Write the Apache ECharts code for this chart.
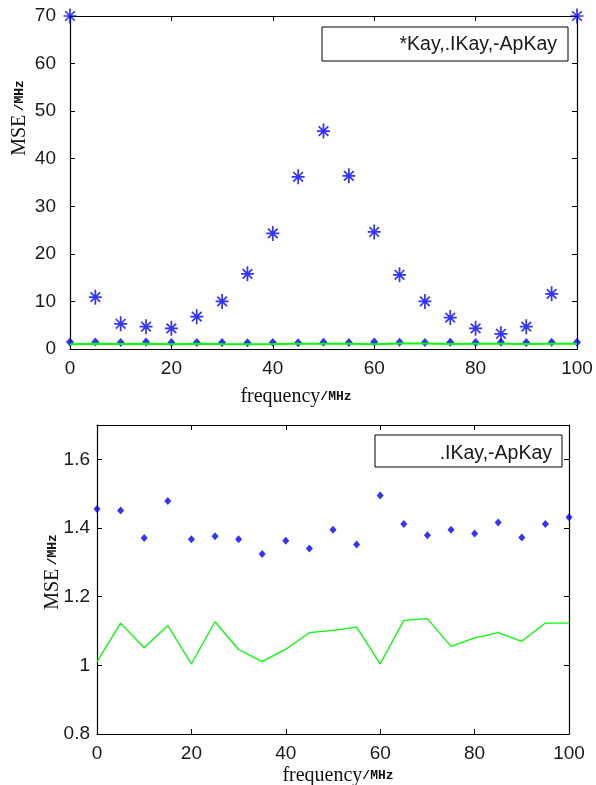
<!DOCTYPE html>
<html><head><meta charset="utf-8">
<script src="https://cdn.jsdelivr.net/npm/echarts@6/dist/echarts.min.js"></script>
<style>html,body{margin:0;padding:0;background:#fff}#c{width:596px;height:785px}</style>
</head><body><div id="c"></div>
<script>
// ---- data ----
const freq = [0, 5, 10, 15, 20, 25, 30, 35, 40, 45, 50, 55, 60, 65, 70, 75, 80, 85, 90, 95, 100];
const kayMSE = [70, 10.9, 5.3, 4.7, 4.35, 6.8, 10, 15.8, 24.3, 36.2, 45.8, 36.4, 24.6, 15.6, 10, 6.6, 4.35, 3.2, 4.7, 11.6, 70];
const ikayMSE = [1.455, 1.451, 1.371, 1.479, 1.367, 1.376, 1.367, 1.324, 1.363, 1.340, 1.395, 1.352, 1.495, 1.412, 1.379, 1.395, 1.384, 1.416, 1.372, 1.412, 1.431];
const apkayMSE = [1.010, 1.123, 1.051, 1.116, 1.004, 1.127, 1.046, 1.011, 1.047, 1.095, 1.102, 1.111, 1.004, 1.131, 1.136, 1.055, 1.080, 1.095, 1.070, 1.123, 1.123];
const legendTopText = '*Kay,.IKay,-ApKay';
const legendBottomText = '.IKay,-ApKay';
const yTitleMain = 'MSE', yTitleUnit = '/MHz';
const xTitleMain = 'frequency', xTitleUnit = '/MHz';

function pairs(v) { return freq.map((f, i) => [f, v[i]]); }

const STAR = 'path://M-0.8 -7L0.8 -7L0.8 7L-0.8 7Z M-6 -0.8L6 -0.8L6 0.8L-6 0.8Z ' +
  'M-5.0 -3.9L-3.9 -5.0L5.0 3.9L3.9 5.0Z M-3.9 5.0L-5.0 3.9L3.9 -5.0L5.0 -3.9Z M-1.7 -1.7L1.7 -1.7L1.7 1.7L-1.7 1.7Z';

const labelStyle = { fontFamily: 'Liberation Sans', fontSize: 19, color: '#1a1a1a' };
function xAx(g, pos, showLabel) {
  return {
    type: 'value', gridIndex: g, position: pos, min: 0, max: 100, interval: 20,
    axisLine: { show: true, onZero: false, lineStyle: { color: '#000', width: 1.2 } },
    axisTick: { show: true, inside: true, length: 5, lineStyle: { color: '#000', width: 1 } },
    axisLabel: Object.assign({ show: showLabel, margin: 10 }, labelStyle),
    splitLine: { show: false }
  };
}
function yAx(g, pos, showLabel, min, max, interval, margin, showMax) {
  return {
    type: 'value', gridIndex: g, position: pos, min: min, max: max, interval: interval,
    axisLine: { show: true, onZero: false, lineStyle: { color: '#000', width: 1.2 } },
    axisTick: { show: true, inside: true, length: 5, lineStyle: { color: '#000', width: 1 } },
    axisLabel: Object.assign({ show: showLabel, margin: margin, showMaxLabel: showMax }, labelStyle),
    splitLine: { show: false }
  };
}

const titleRich = {
  a: { fontFamily: 'Liberation Serif', fontSize: 20, fill: '#111', color: '#111' },
  b: { fontFamily: 'Liberation Mono', fontSize: 13, fontWeight: 'bold', fill: '#111', color: '#111' }
};

const chart = echarts.init(document.getElementById('c'), null, { renderer: 'canvas' });
chart.setOption({
  animation: false,
  backgroundColor: '#fff',
  grid: [
    { left: 70, top: 16, width: 507, height: 333 },
    { left: 97, top: 425, width: 472, height: 309 }
  ],
  xAxis: [xAx(0, 'bottom', true), xAx(0, 'top', false), xAx(1, 'bottom', true), xAx(1, 'top', false)],
  yAxis: [
    yAx(0, 'left', true, 0, 70, 10, 14, true), yAx(0, 'right', false, 0, 70, 10, 14, true),
    yAx(1, 'left', true, 0.8, 1.7, 0.2, 7, false), yAx(1, 'right', false, 0.8, 1.7, 0.2, 7, false)
  ],
  series: [
    { type: 'line', xAxisIndex: 0, yAxisIndex: 0, data: pairs(apkayMSE), symbol: 'none', clip: false,
      lineStyle: { color: '#00ff00', width: 2 }, z: 3 },
    { type: 'scatter', xAxisIndex: 0, yAxisIndex: 0, data: pairs(ikayMSE), symbol: 'diamond', symbolSize: [8, 9], clip: false,
      itemStyle: { color: '#0000ff' }, z: 2 },
    { type: 'scatter', xAxisIndex: 0, yAxisIndex: 0, data: pairs(kayMSE), symbol: STAR, symbolSize: [13, 15], clip: false,
      itemStyle: { color: '#0000ff' }, z: 4 },
    { type: 'scatter', xAxisIndex: 2, yAxisIndex: 2, data: pairs(ikayMSE), symbol: 'diamond', symbolSize: [7, 8], clip: false,
      itemStyle: { color: '#0000ff' }, z: 4 },
    { type: 'line', xAxisIndex: 2, yAxisIndex: 2, data: pairs(apkayMSE), symbol: 'none', clip: false,
      lineStyle: { color: '#00ff00', width: 1.3 }, z: 3 }
  ],
  graphic: [
    { type: 'rect', shape: { x: 322, y: 27, width: 246, height: 34 }, style: { fill: '#fff', stroke: '#000', lineWidth: 1 }, z: 100 },
    { type: 'text', x: 557, y: 45, style: { text: legendTopText, font: '19.5px "Liberation Sans"', fill: '#1a1a1a', align: 'right', verticalAlign: 'middle' }, z: 101 },
    { type: 'rect', shape: { x: 375, y: 435, width: 187, height: 32 }, style: { fill: '#fff', stroke: '#000', lineWidth: 1 }, z: 100 },
    { type: 'text', x: 552, y: 454, style: { text: legendBottomText, font: '19.5px "Liberation Sans"', fill: '#1a1a1a', align: 'right', verticalAlign: 'middle' }, z: 101 },
    { type: 'text', x: 20, y: 118, rotation: Math.PI / 2, style: { text: '{a|' + yTitleMain + '} {b|' + yTitleUnit + '}', rich: titleRich, align: 'center', verticalAlign: 'middle' }, z: 101 },
    { type: 'text', x: 53, y: 572, rotation: Math.PI / 2, style: { text: '{a|' + yTitleMain + '} {b|' + yTitleUnit + '}', rich: titleRich, align: 'center', verticalAlign: 'middle' }, z: 101 },
    { type: 'text', x: 296, y: 397, style: { text: '{a|' + xTitleMain + '}{b|' + xTitleUnit + '}', rich: titleRich, align: 'center', verticalAlign: 'middle' }, z: 101 },
    { type: 'text', x: 338, y: 776, style: { text: '{a|' + xTitleMain + '}{b|' + xTitleUnit + '}', rich: titleRich, align: 'center', verticalAlign: 'middle' }, z: 101 }
  ]
});
</script>
</body></html>
